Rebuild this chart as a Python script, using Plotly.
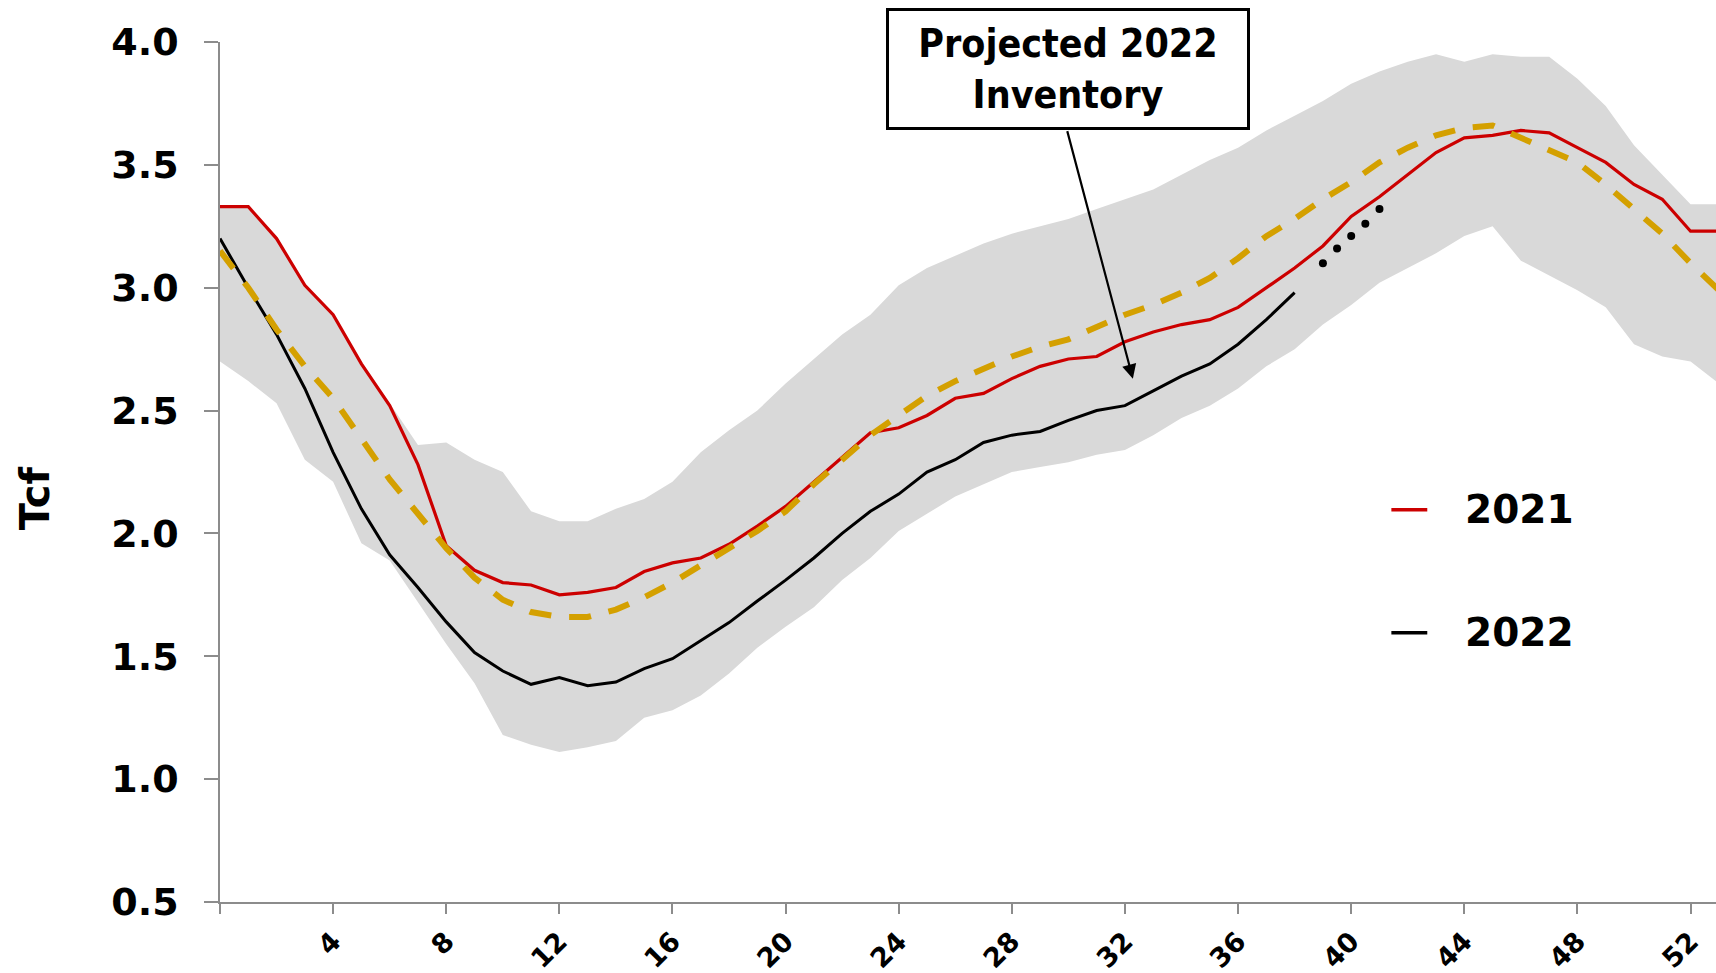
import plotly.graph_objects as go

weeks = list(range(0, 54))
band_upper = [3.33, 3.33, 3.21, 3.01, 2.89, 2.70, 2.53, 2.36, 2.37, 2.30, 2.25, 2.09, 2.05, 2.05, 2.10,
              2.14, 2.21, 2.33, 2.42, 2.50, 2.61, 2.71, 2.81, 2.89, 3.01, 3.08, 3.13, 3.18, 3.22, 3.25,
              3.28, 3.32, 3.36, 3.40, 3.46, 3.52, 3.57, 3.64, 3.70, 3.76, 3.83, 3.88, 3.92, 3.95, 3.92,
              3.95, 3.94, 3.94, 3.85, 3.74, 3.58, 3.46, 3.34, 3.34]
band_lower = [2.70, 2.62, 2.53, 2.30, 2.21, 1.96, 1.89, 1.72, 1.55, 1.39, 1.18, 1.14, 1.11, 1.13, 1.155,
              1.25, 1.28, 1.34, 1.43, 1.535, 1.62, 1.70, 1.81, 1.90, 2.01, 2.08, 2.15, 2.20, 2.25, 2.27,
              2.29, 2.32, 2.34, 2.40, 2.47, 2.52, 2.59, 2.68, 2.75, 2.85, 2.93, 3.02, 3.08, 3.14, 3.21,
              3.25, 3.11, 3.05, 2.99, 2.92, 2.77, 2.72, 2.70, 2.61]
avg_5yr = [3.15, 3.00, 2.83, 2.68, 2.55, 2.38, 2.22, 2.08, 1.94, 1.82, 1.73, 1.68, 1.66, 1.66, 1.69,
           1.74, 1.80, 1.87, 1.94, 2.01, 2.09, 2.20, 2.30, 2.40, 2.48, 2.56, 2.62, 2.67, 2.72, 2.76,
           2.79, 2.84, 2.89, 2.93, 2.98, 3.04, 3.12, 3.21, 3.28, 3.36, 3.43, 3.51, 3.57, 3.62, 3.65,
           3.66, 3.61, 3.56, 3.51, 3.42, 3.32, 3.22, 3.10, 2.99]
y2021 = [3.33, 3.33, 3.20, 3.01, 2.89, 2.69, 2.52, 2.28, 1.95, 1.85, 1.80, 1.79, 1.75, 1.76, 1.78,
         1.845, 1.88, 1.90, 1.956, 2.03, 2.11, 2.21, 2.31, 2.41, 2.43, 2.48, 2.55, 2.57, 2.63, 2.68,
         2.71, 2.72, 2.78, 2.82, 2.85, 2.87, 2.92, 3.00, 3.08, 3.17, 3.29, 3.37, 3.46, 3.55, 3.61,
         3.62, 3.64, 3.63, 3.57, 3.51, 3.42, 3.36, 3.23, 3.23]
weeks_2022 = list(range(0, 39))
y2022 = [3.20, 3.00, 2.81, 2.59, 2.33, 2.10, 1.913, 1.78, 1.64, 1.515, 1.44, 1.386, 1.413, 1.38, 1.395,
         1.45, 1.49, 1.565, 1.637, 1.725, 1.81, 1.90, 2.00, 2.09, 2.16, 2.25, 2.30, 2.37, 2.40, 2.415,
         2.46, 2.50, 2.52, 2.58, 2.64, 2.69, 2.77, 2.87, 2.98]
proj_weeks = [39, 39.5, 40, 40.5, 41]
proj_vals = [3.10, 3.16, 3.21, 3.26, 3.32]

tick_weeks = list(range(0, 53, 4))
tick_labels = [""] + [str(w) for w in tick_weeks[1:]]
y_ticks = [0.5, 1.0, 1.5, 2.0, 2.5, 3.0, 3.5, 4.0]
y_labels = ["0.5", "1.0", "1.5", "2.0", "2.5", "3.0", "3.5", "4.0"]

FONT = "DejaVu Sans"
RED = "#CC0000"
GOLD = "#D4A000"

fig = go.Figure()
fig.add_trace(go.Scatter(x=weeks, y=band_lower, mode="lines", line=dict(width=0),
                         showlegend=False, hoverinfo="skip"))
fig.add_trace(go.Scatter(x=weeks, y=band_upper, mode="lines", line=dict(width=0),
                         fill="tonexty", fillcolor="#D9D9D9", showlegend=False, name="5-yr range"))
fig.add_trace(go.Scatter(x=weeks_2022, y=y2022, mode="lines", line=dict(color="black", width=3),
                         name="2022", showlegend=False))
fig.add_trace(go.Scatter(x=weeks, y=y2021, mode="lines", line=dict(color=RED, width=3.2),
                         name="2021", showlegend=False))
fig.add_trace(go.Scatter(x=weeks, y=avg_5yr, mode="lines",
                         line=dict(color=GOLD, width=6, dash="22px,18px"),
                         name="5-yr avg", showlegend=False))
fig.add_trace(go.Scatter(x=proj_weeks, y=proj_vals, mode="markers",
                         marker=dict(color="black", size=8), name="Projected", showlegend=False))

# custom legend
leg_items = [("2021", RED, 0.456), ("2022", "black", 0.313)]
for label, col, ypos in leg_items:
    fig.add_shape(type="line", xref="paper", yref="paper", x0=0.783, x1=0.807, y0=ypos, y1=ypos,
                  line=dict(color=col, width=3.5))
    fig.add_annotation(xref="paper", yref="paper", x=0.831, y=ypos, text=label, showarrow=False,
                       xanchor="left", yanchor="middle",
                       font=dict(family=FONT, size=39, color="black", weight="bold"))

# y axis title
fig.add_annotation(xref="paper", yref="paper", x=-0.124, y=0.47, text="Tcf", showarrow=False,
                   textangle=-90, xanchor="center", yanchor="middle",
                   font=dict(family=FONT, size=40, color="black", weight="bold"))

# callout arrow
fig.add_annotation(x=32.28, y=2.63, xref="x", yref="y", text="", showarrow=True,
                   ax=-66, ay=-249, arrowhead=2, arrowsize=1.3, arrowwidth=2.2, arrowcolor="black")
# callout box
fig.add_annotation(x=30.0, y=3.89, xref="x", yref="y",
                   text="Projected 2022<br>Inventory", showarrow=False,
                   xanchor="center", yanchor="middle", align="center",
                   width=354, height=112, borderpad=2, borderwidth=3, bordercolor="black",
                   bgcolor="white",
                   font=dict(family="DejaVu Sans Condensed", size=39, color="black", weight="bold"))

fig.update_layout(
    width=1716, height=973,
    margin=dict(l=220, r=0, t=42, b=71, autoexpand=False),
    paper_bgcolor="white", plot_bgcolor="white",
    showlegend=False,
)
fig.update_xaxes(range=[0, 52.9], tickmode="array", tickvals=tick_weeks, ticktext=tick_labels,
                 tickangle=-45, ticks="outside", ticklen=10, tickcolor="#8C8C8C", tickwidth=1.5,
                 showline=True, linecolor="#8C8C8C", linewidth=1.5, showgrid=False, zeroline=False,
                 ticklabelstandoff=1, automargin=False,
                 tickfont=dict(family=FONT, size=27, color="black", weight="bold"))
fig.update_yaxes(range=[0.5, 4.0], tickmode="array", tickvals=y_ticks, ticktext=y_labels,
                 ticks="outside", ticklen=14, tickcolor="#8C8C8C", tickwidth=1.5,
                 showline=True, linecolor="#8C8C8C", linewidth=1.5, showgrid=False, zeroline=False,
                 ticklabelstandoff=18, automargin=False,
                 tickfont=dict(family=FONT, size=38, color="black", weight="bold"))

fig.write_html("out.html", config={"displayModeBar": False},
               post_script="document.body.style.margin='0';document.body.style.overflow='hidden';")
